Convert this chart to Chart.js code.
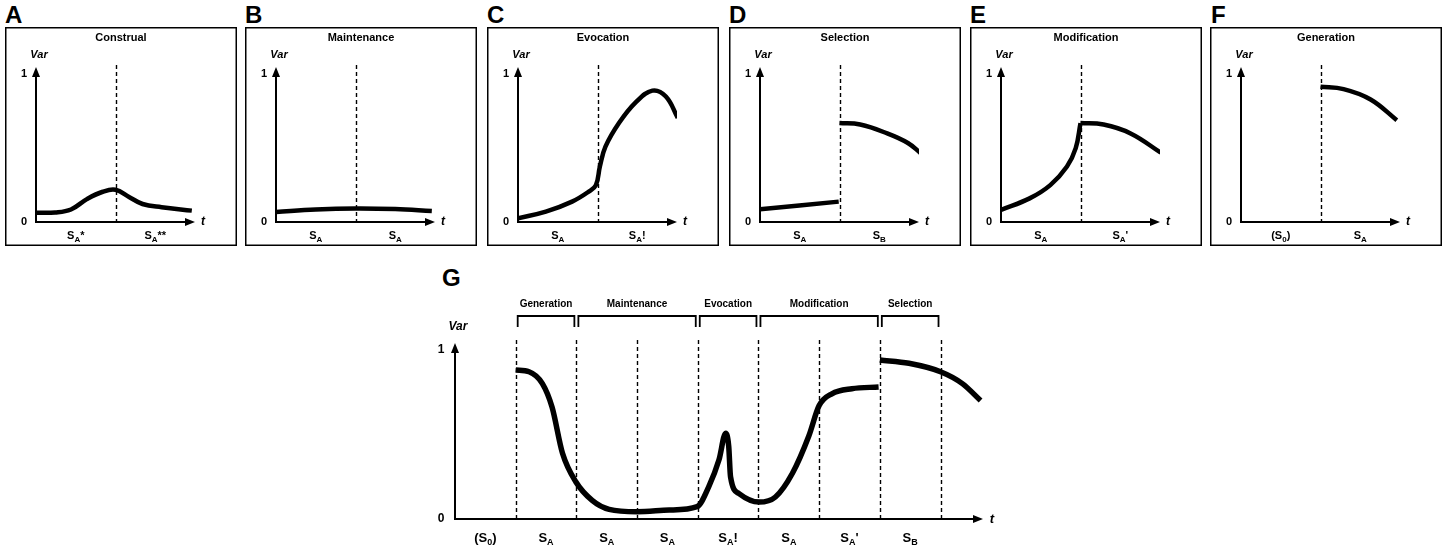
<!DOCTYPE html>
<html>
<head>
<meta charset="utf-8">
<script src="https://cdn.jsdelivr.net/npm/chart.js@4.4.0/dist/chart.umd.min.js"></script>
<style>
body{margin:0;background:#fff;width:1446px;height:546px;overflow:hidden;position:relative;font-family:"Liberation Sans",Arial,sans-serif}
canvas{position:absolute}
.letter{position:absolute;font-weight:bold;font-size:24px;line-height:1;color:#000}
</style>
</head>
<body>
<div class="letter" style="left:5px;top:3px">A</div>
<div class="letter" style="left:245px;top:3px">B</div>
<div class="letter" style="left:487px;top:3px">C</div>
<div class="letter" style="left:729px;top:3px">D</div>
<div class="letter" style="left:970px;top:3px">E</div>
<div class="letter" style="left:1211px;top:3px">F</div>
<div class="letter" style="left:442px;top:266px">G</div>

<canvas id="chA" width="232" height="219" style="left:5px;top:27px"></canvas>
<canvas id="chB" width="232" height="219" style="left:245px;top:27px"></canvas>
<canvas id="chC" width="232" height="219" style="left:487px;top:27px"></canvas>
<canvas id="chD" width="232" height="219" style="left:729px;top:27px"></canvas>
<canvas id="chE" width="232" height="219" style="left:970px;top:27px"></canvas>
<canvas id="chF" width="232" height="219" style="left:1210px;top:27px"></canvas>
<canvas id="chG" width="580" height="261" style="left:430px;top:285px"></canvas>

<script>
// ===== Data (t = time, v = Var) =====
const smallLabelT = [2.5, 7.5];

const aT = [0, 1.2, 2.2, 3.2, 4.2, 5, 5.85, 6.7, 7.9, 9.8];
const aV = [0.063, 0.065, 0.085, 0.155, 0.205, 0.218, 0.17, 0.122, 0.1, 0.077];
const aLabels = ['S_A*', 'S_A**'];

const bT = [0, 2.5, 5, 7.5, 9.8];
const bV = [0.068, 0.085, 0.092, 0.088, 0.075];
const bLabels = ['S_A', 'S_A'];

const cT = [0, 1.75, 3.4, 4.45, 4.9, 5.15, 5.5, 6.35, 7.4, 8.45, 9.3, 10.05];
const cV = [0.025, 0.07, 0.138, 0.206, 0.25, 0.376, 0.51, 0.67, 0.81, 0.89, 0.85, 0.705];
const cLabels = ['S_A', 'S_A!'];

const d1T = [0, 4.95];
const d1V = [0.086, 0.138];
const d2T = [5, 6.3, 8.0, 9.3, 10.1];
const d2V = [0.67, 0.66, 0.6, 0.535, 0.467];
const dLabels = ['S_A', 'S_B'];

const e1T = [0, 1.8, 3.1, 4.15, 4.7, 5];
const e1V = [0.082, 0.16, 0.25, 0.376, 0.5, 0.67];
const e2T = [5, 6.45, 8.15, 10.05];
const e2V = [0.67, 0.66, 0.6, 0.47];
const eLabels = ['S_A', "S_A'"];

const fT = [5, 6.45, 8.15, 9.8];
const fV = [0.916, 0.9, 0.83, 0.69];
const fLabels = ['(S_0)', 'S_A'];

const gT1 = [1.0, 1.22, 1.44, 1.6, 1.77, 1.99, 2.26, 2.54, 3.0, 3.53, 3.99, 4.18, 4.35, 4.46, 4.51, 4.54, 4.68, 5.01, 5.28, 5.56, 5.83, 6.0, 6.21, 6.54, 6.98];
const gV1 = [0.88, 0.87, 0.80, 0.66, 0.39, 0.22, 0.11, 0.057, 0.043, 0.053, 0.073, 0.19, 0.35, 0.507, 0.43, 0.25, 0.15, 0.10, 0.13, 0.27, 0.49, 0.67, 0.74, 0.77, 0.78];
const gT2 = [7.0, 7.48, 8.0, 8.36, 8.66];
const gV2 = [0.94, 0.92, 0.87, 0.80, 0.70];
const gLabels = ['(S_0)', 'S_A', 'S_A', 'S_A', 'S_A!', 'S_A', "S_A'", 'S_B'];
const gLabelT = [0.5, 1.5, 2.5, 3.5, 4.5, 5.5, 6.5, 7.5];
const gDashes = [1, 2, 3, 4, 5, 6, 7, 8];
const gPhases = ['Generation', 'Maintenance', 'Evocation', 'Modification', 'Selection'];
const gPhaseStart = [1, 2, 4, 5, 7];
const gPhaseEnd = [2, 4, 5, 7, 8];

const FONT = '"Liberation Sans", Arial, sans-serif';

// label like "S_A*" -> S, subscript A, then rest
function drawSubLabel(ctx, str, cx, cy, size, subSize){
    let parts;
    const i = str.indexOf('_');
    if(i < 0) parts = [[str, false]];
    else parts = [[str.slice(0, i), false], [str[i+1], true], [str.slice(i+2), false]];
    let w = 0;
    parts.forEach(p => { ctx.font = 'bold ' + (p[1] ? subSize : size) + 'px ' + FONT; w += ctx.measureText(p[0]).width; });
    let x = cx - w/2;
    ctx.textAlign = 'left';
    ctx.textBaseline = 'alphabetic';
    const base = cy + size*0.36;
    parts.forEach(p => {
        ctx.font = 'bold ' + (p[1] ? subSize : size) + 'px ' + FONT;
        ctx.fillText(p[0], x, p[1] ? base + size*0.25 : base);
        x += ctx.measureText(p[0]).width;
    });
}

const deco = {
    id: 'deco',
    beforeDatasetsDraw(chart, args, o){
        const {ctx, chartArea: a, scales: {x}} = chart;
        ctx.save();
        ctx.strokeStyle = '#000';
        ctx.fillStyle = '#000';
        // dashed lines
        ctx.lineWidth = 1.4;
        ctx.setLineDash([4, 3]);
        o.dashes.forEach(t => {
            const px = Math.round(x.getPixelForValue(t)) + 0.5;
            ctx.beginPath(); ctx.moveTo(px, o.dashTop); ctx.lineTo(px, a.bottom); ctx.stroke();
        });
        ctx.setLineDash([]);
        // axes with arrows
        ctx.lineWidth = 2;
        ctx.beginPath();
        ctx.moveTo(a.left, a.top + 6); ctx.lineTo(a.left, a.bottom); ctx.lineTo(a.right - 6, a.bottom);
        ctx.stroke();
        ctx.beginPath(); ctx.moveTo(a.left, a.top); ctx.lineTo(a.left - 4, a.top + 10); ctx.lineTo(a.left + 4, a.top + 10); ctx.closePath(); ctx.fill();
        ctx.beginPath(); ctx.moveTo(a.right, a.bottom); ctx.lineTo(a.right - 10, a.bottom - 4); ctx.lineTo(a.right - 10, a.bottom + 4); ctx.closePath(); ctx.fill();
        // phase brackets (G only)
        if(o.phases){
            ctx.lineWidth = 1.8;
            o.phases.forEach((name, k) => {
                const x0 = x.getPixelForValue(o.phaseStart[k]) + 2;
                const x1 = x.getPixelForValue(o.phaseEnd[k]) - 2;
                ctx.beginPath();
                ctx.moveTo(x0, o.bracketBottom); ctx.lineTo(x0, o.bracketTop); ctx.lineTo(x1, o.bracketTop); ctx.lineTo(x1, o.bracketBottom);
                ctx.stroke();
                ctx.font = 'bold 10px ' + FONT;
                ctx.textAlign = 'center'; ctx.textBaseline = 'middle';
                ctx.fillText(name, (x0 + x1)/2, o.phaseLabelY);
            });
        }
        ctx.restore();
    },
    afterDraw(chart, args, o){
        const {ctx, chartArea: a, scales: {x, y}} = chart;
        ctx.save();
        ctx.fillStyle = '#000';
        ctx.strokeStyle = '#000';
        if(o.border){
            ctx.lineWidth = 1.5;
            ctx.strokeRect(0.75, 0.75, chart.width - 1.5, chart.height - 1.5);
        }
        ctx.textAlign = 'center'; ctx.textBaseline = 'middle';
        if(o.title){
            ctx.font = 'bold 11px ' + FONT;
            ctx.fillText(o.title, chart.width/2, 11);
        }
        ctx.font = 'italic bold ' + o.varSize + 'px ' + FONT;
        ctx.fillText('Var', a.left + 3, a.top - o.varDy);
        ctx.font = 'italic bold ' + (o.varSize + 1) + 'px ' + FONT;
        ctx.fillText('t', a.right + o.tDx, a.bottom);
        ctx.font = 'bold ' + o.numSize + 'px ' + FONT;
        ctx.fillText('1', a.left - o.numDx, y.getPixelForValue(1));
        ctx.fillText('0', a.left - o.numDx, y.getPixelForValue(0));
        o.labels.forEach((s, k) => drawSubLabel(ctx, s, x.getPixelForValue(o.labelT[k]), o.labelY, o.labelSize, o.subSize));
        ctx.restore();
    }
};

function pts(ts, vs){ return ts.map((t, i) => ({x: t, y: vs[i]})); }

function makeChart(id, series, d, opts){
    const big = !!opts.big;
    new Chart(document.getElementById(id), {
        type: 'line',
        data: {
            datasets: series.map(s => ({
                data: pts(s[0], s[1]),
                borderColor: '#000',
                borderWidth: big ? 5.5 : 4.5,
                pointRadius: 0,
                tension: 0.4,
                cubicInterpolationMode: big ? 'monotone' : 'default',
                fill: false
            }))
        },
        options: {
            responsive: false,
            animation: false,
            events: [],
            layout: { padding: opts.padding },
            scales: {
                x: { type: 'linear', min: 0, max: opts.xMax, display: false },
                y: { min: 0, max: opts.yMax, display: false }
            },
            plugins: { legend: { display: false }, tooltip: { enabled: false }, deco: d }
        },
        plugins: [deco]
    });
}

function smallDeco(title, labels){
    return { border: true, title, labels, labelT: smallLabelT, labelY: 208, labelSize: 11, subSize: 8,
             dashes: [5], dashTop: 38, varSize: 11, varDy: 12, tDx: 8, numSize: 11, numDx: 12 };
}
const smallOpts = { padding: {left: 31, right: 42, top: 40, bottom: 24}, xMax: 10, yMax: 1.05 };

makeChart('chA', [[aT, aV]], smallDeco('Construal', aLabels), smallOpts);
makeChart('chB', [[bT, bV]], smallDeco('Maintenance', bLabels), smallOpts);
makeChart('chC', [[cT, cV]], smallDeco('Evocation', cLabels), smallOpts);
makeChart('chD', [[d1T, d1V], [d2T, d2V]], smallDeco('Selection', dLabels), smallOpts);
makeChart('chE', [[e1T, e1V], [e2T, e2V]], smallDeco('Modification', eLabels), smallOpts);
makeChart('chF', [[fT, fV]], smallDeco('Generation', fLabels), smallOpts);

makeChart('chG', [[gT1, gV1], [gT2, gV2]], {
    border: false, title: null, labels: gLabels, labelT: gLabelT, labelY: 252, labelSize: 13, subSize: 9,
    dashes: gDashes, dashTop: 55, varSize: 12, varDy: 16, tDx: 9, numSize: 12, numDx: 14,
    phases: gPhases, phaseStart: gPhaseStart, phaseEnd: gPhaseEnd, bracketTop: 31, bracketBottom: 42, phaseLabelY: 19
}, { big: true, padding: {left: 25, right: 27, top: 58, bottom: 27}, xMax: 8.7, yMax: 1.04 });
</script>
</body>
</html>
